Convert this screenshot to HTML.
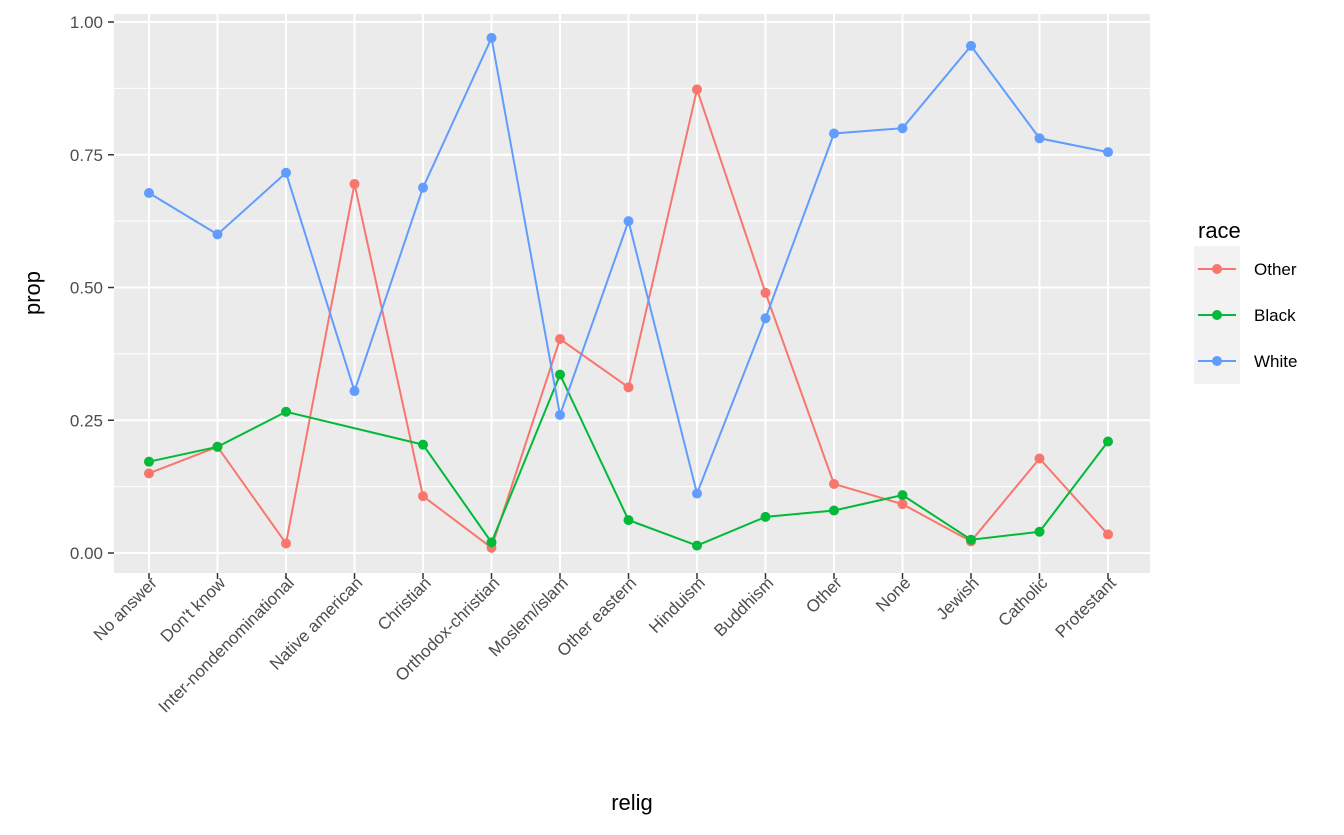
<!DOCTYPE html>
<html><head><meta charset="utf-8"><style>
body{margin:0;background:#fff;font-family:"Liberation Sans",Arial,sans-serif;}
svg text{font-family:"Liberation Sans",Arial,sans-serif;}
</style></head><body>
<svg id="chart" width="1344" height="830" xmlns="http://www.w3.org/2000/svg">
<rect x="114" y="14" width="1036" height="559" fill="#ebebeb"/>
<g id="grid"></g><g id="series"></g><g id="axes"></g>
<text x="632" y="810" font-size="22" text-anchor="middle" fill="#000">relig</text>
<text transform="translate(40,293) rotate(-90)" font-size="22" text-anchor="middle" fill="#000">prop</text>
<g>
<rect x="1194" y="246" width="46" height="138" fill="#f2f2f2"/>
<text x="1198" y="238" font-size="22">race</text>
<g id="legend"></g>
</g>
</svg>
<script>
const categories=["No answer","Don't know","Inter-nondenominational","Native american","Christian","Orthodox-christian","Moslem/islam","Other eastern","Hinduism","Buddhism","Other","None","Jewish","Catholic","Protestant"];
const seriesNames=["Other","Black","White"];
const otherVals=[0.15,0.20,0.018,0.695,0.107,0.010,0.403,0.312,0.873,0.49,0.13,0.092,0.022,0.178,0.035];
const blackVals=[0.172,0.20,0.266,null,0.204,0.020,0.336,0.062,0.014,0.068,0.080,0.109,0.025,0.040,0.210];
const whiteVals=[0.678,0.60,0.716,0.305,0.688,0.970,0.260,0.625,0.112,0.442,0.790,0.800,0.955,0.781,0.755];
const yTicks=[0,0.25,0.5,0.75,1.0];
const yTickLabels=["0.00","0.25","0.50","0.75","1.00"];
const colors=["#f8766d","#00ba38","#619cff"];
const NS="http://www.w3.org/2000/svg";
const x=i=>149+i*(1108-149)/(categories.length-1);
const y=v=>553-v*531;
function mk(tag,attrs,parent){const e=document.createElementNS(NS,tag);for(const k in attrs)e.setAttribute(k,attrs[k]);parent.appendChild(e);return e;}
const grid=document.getElementById('grid'),axes=document.getElementById('axes'),ser=document.getElementById('series'),leg=document.getElementById('legend');
for(let k=0;k<yTicks.length-1;k++){const l=mk('line',{x1:114,x2:1150,y1:y((yTicks[k]+yTicks[k+1])/2),y2:y((yTicks[k]+yTicks[k+1])/2),stroke:'#fff','stroke-width':1},grid);

}
yTicks.forEach((t,k)=>{const l=mk('line',{x1:114,x2:1150,y1:y(t),y2:y(t),stroke:'#fff','stroke-width':2},grid);


const tk=mk('line',{x1:108,x2:114,y1:y(t),y2:y(t),stroke:'#333','stroke-width':1.5},axes);


const tx=mk('text',{x:103,y:y(t)+6,'font-size':17,'text-anchor':'end',fill:'#4d4d4d'},axes);tx.textContent=yTickLabels[k];

});
categories.forEach((c,i)=>{const l=mk('line',{x1:x(i),x2:x(i),y1:14,y2:573,stroke:'#fff','stroke-width':2},grid);


const tk=mk('line',{x1:x(i),x2:x(i),y1:573,y2:579,stroke:'#333','stroke-width':1.5},axes);


const tx=mk('text',{transform:`translate(${x(i)+9},${584}) rotate(-45)`,'font-size':17,'text-anchor':'end',fill:'#4d4d4d'},axes);tx.textContent=c;

});
[otherVals,blackVals,whiteVals].forEach((vals,s)=>{
const pts=[];vals.forEach((v,i)=>{if(v!==null)pts.push(x(i)+','+y(v));});
const pl=mk('polyline',{points:pts.join(' '),fill:'none',stroke:colors[s],'stroke-width':2},ser);


vals.forEach((v,i)=>{if(v===null)return;const p=mk('circle',{cx:x(i),cy:y(v),r:5,fill:colors[s]},ser);

});
const ly=269+s*46;
const ll=mk('line',{x1:1198,x2:1236,y1:ly,y2:ly,stroke:colors[s],'stroke-width':2},leg);


const lc=mk('circle',{cx:1217,cy:ly,r:5,fill:colors[s]},leg);


const lt=mk('text',{x:1254,y:ly+6,'font-size':17,fill:'#000'},leg);lt.textContent=seriesNames[s];


});
</script>
</body></html>
